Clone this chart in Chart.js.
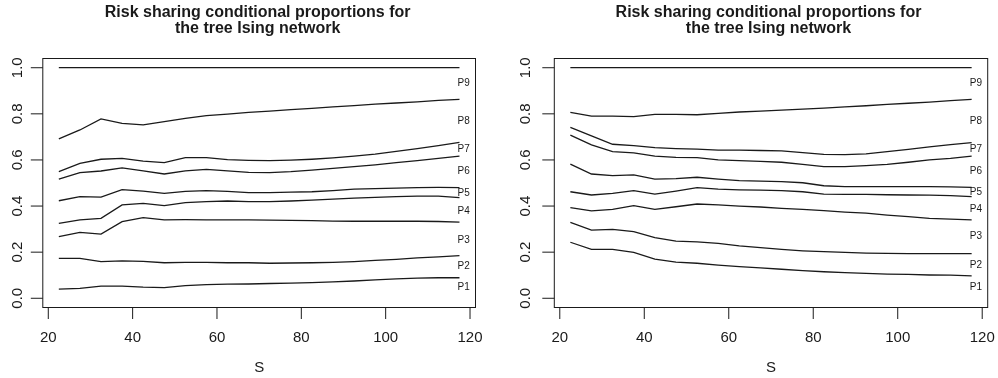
<!DOCTYPE html>
<html>
<head>
<meta charset="utf-8">
<script src="https://cdn.jsdelivr.net/npm/chart.js@4.4.1/dist/chart.umd.min.js"></script>
<style>
  html, body { margin: 0; padding: 0; background: #fff; overflow: hidden; }
  #wrap { position: relative; width: 998px; height: 378px; }
  canvas { position: absolute; top: 0; }
</style>
</head>
<body>
<div id="wrap">
  <canvas id="leftChart" width="499" height="378" style="left:0"></canvas>
  <canvas id="rightChart" width="499" height="378" style="left:499px"></canvas>
</div>
<script>
const S = [22.5, 27.5, 32.5, 37.5, 42.5, 47.5, 52.5, 57.5, 62.5, 67.5,
           72.5, 77.5, 82.5, 87.5, 92.5, 97.5, 102.5, 107.5, 112.5, 117.5];

const seriesNames = ['P1', 'P2', 'P3', 'P4', 'P5', 'P6', 'P7', 'P8', 'P9'];
const xTicks = [20, 40, 60, 80, 100, 120];
const yTicks = [0, 0.2, 0.4, 0.6, 0.8, 1.0];
const titleLines = ['Risk sharing conditional proportions for', 'the tree Ising network'];

// left panel
const leftP1 = [0.040, 0.043, 0.053, 0.053, 0.048, 0.046, 0.055, 0.059, 0.061, 0.062, 0.064, 0.066, 0.068, 0.071, 0.075, 0.080, 0.084, 0.087, 0.089, 0.089];
const leftP2 = [0.173, 0.173, 0.159, 0.162, 0.160, 0.154, 0.156, 0.156, 0.154, 0.154, 0.152, 0.153, 0.154, 0.156, 0.159, 0.164, 0.169, 0.175, 0.180, 0.185];
const leftP3 = [0.267, 0.286, 0.278, 0.332, 0.350, 0.340, 0.341, 0.340, 0.340, 0.340, 0.339, 0.338, 0.337, 0.335, 0.334, 0.334, 0.334, 0.334, 0.333, 0.330];
const leftP4 = [0.325, 0.340, 0.347, 0.405, 0.412, 0.402, 0.415, 0.419, 0.422, 0.419, 0.419, 0.422, 0.426, 0.430, 0.434, 0.438, 0.441, 0.443, 0.443, 0.437];
const leftP5 = [0.423, 0.441, 0.439, 0.471, 0.465, 0.455, 0.464, 0.467, 0.464, 0.458, 0.458, 0.460, 0.462, 0.467, 0.473, 0.476, 0.478, 0.480, 0.481, 0.480];
const leftP6 = [0.517, 0.545, 0.552, 0.566, 0.553, 0.539, 0.553, 0.559, 0.553, 0.546, 0.545, 0.549, 0.556, 0.563, 0.571, 0.579, 0.588, 0.597, 0.607, 0.617];
const leftP7 = [0.549, 0.585, 0.603, 0.607, 0.595, 0.588, 0.610, 0.610, 0.601, 0.598, 0.597, 0.599, 0.603, 0.609, 0.617, 0.625, 0.637, 0.649, 0.662, 0.676];
const leftP8 = [0.691, 0.730, 0.778, 0.759, 0.752, 0.766, 0.780, 0.792, 0.799, 0.806, 0.812, 0.818, 0.824, 0.830, 0.836, 0.842, 0.847, 0.852, 0.858, 0.863];
const leftP9 = [1, 1, 1, 1, 1, 1, 1, 1, 1, 1, 1, 1, 1, 1, 1, 1, 1, 1, 1, 1];
const leftLabelY = [0.048, 0.137, 0.253, 0.379, 0.455, 0.549, 0.646, 0.766, 0.932];

// right panel
const rightP1 = [0.243, 0.212, 0.212, 0.199, 0.170, 0.157, 0.152, 0.144, 0.137, 0.132, 0.126, 0.120, 0.115, 0.111, 0.108, 0.105, 0.104, 0.101, 0.100, 0.097];
const rightP2 = [0.329, 0.296, 0.299, 0.289, 0.263, 0.248, 0.245, 0.238, 0.227, 0.220, 0.212, 0.206, 0.202, 0.199, 0.196, 0.195, 0.194, 0.194, 0.194, 0.194];
const rightP3 = [0.393, 0.379, 0.386, 0.402, 0.386, 0.397, 0.409, 0.405, 0.400, 0.396, 0.390, 0.386, 0.380, 0.374, 0.369, 0.361, 0.354, 0.347, 0.343, 0.340];
const rightP4 = [0.462, 0.448, 0.455, 0.467, 0.452, 0.465, 0.480, 0.473, 0.470, 0.469, 0.467, 0.462, 0.452, 0.451, 0.451, 0.449, 0.448, 0.447, 0.445, 0.441];
const rightP5 = [0.582, 0.539, 0.532, 0.535, 0.517, 0.519, 0.525, 0.517, 0.510, 0.508, 0.506, 0.501, 0.488, 0.484, 0.484, 0.484, 0.484, 0.484, 0.483, 0.481];
const rightP6 = [0.708, 0.665, 0.636, 0.631, 0.617, 0.611, 0.610, 0.600, 0.597, 0.594, 0.590, 0.581, 0.571, 0.571, 0.575, 0.581, 0.590, 0.600, 0.607, 0.617];
const rightP7 = [0.741, 0.704, 0.668, 0.662, 0.653, 0.649, 0.647, 0.643, 0.643, 0.641, 0.639, 0.632, 0.624, 0.623, 0.626, 0.636, 0.646, 0.657, 0.666, 0.675];
const rightP8 = [0.806, 0.790, 0.790, 0.788, 0.798, 0.798, 0.796, 0.802, 0.808, 0.812, 0.816, 0.820, 0.825, 0.830, 0.835, 0.841, 0.846, 0.851, 0.857, 0.863];
const rightP9 = [1, 1, 1, 1, 1, 1, 1, 1, 1, 1, 1, 1, 1, 1, 1, 1, 1, 1, 1, 1];
const rightLabelY = [0.048, 0.144, 0.267, 0.387, 0.462, 0.549, 0.646, 0.766, 0.932];

const labelX = 118.5;
const FONT = '"Liberation Sans", Arial, Helvetica, sans-serif';
const INK = '#1a1a1a';

// draws the R style box, axes, titles and line labels
const rFrame = {
    id: 'rFrame',
    afterDraw(chart, args, opts) {
        const { ctx, chartArea: a } = chart;
        const x = chart.scales.x, y = chart.scales.y;
        const cx = (a.left + a.right) / 2;
        ctx.save();
        ctx.strokeStyle = INK;
        ctx.lineWidth = 1;
        ctx.strokeRect(a.left, a.top, a.right - a.left, a.bottom - a.top);

        ctx.beginPath();
        xTicks.forEach(v => {
            const px = x.getPixelForValue(v);
            ctx.moveTo(px, a.bottom);
            ctx.lineTo(px, a.bottom + 11.5);
        });
        yTicks.forEach(v => {
            const py = y.getPixelForValue(v);
            ctx.moveTo(a.left, py);
            ctx.lineTo(a.left - 12, py);
        });
        ctx.stroke();

        ctx.fillStyle = INK;
        ctx.font = '15px ' + FONT;
        ctx.textAlign = 'center';
        ctx.textBaseline = 'alphabetic';
        xTicks.forEach(v => ctx.fillText(String(v), x.getPixelForValue(v), 341.5));
        yTicks.forEach(v => {
            ctx.save();
            ctx.translate(a.left - opts.yLabelGap, y.getPixelForValue(v));
            ctx.rotate(-Math.PI / 2);
            ctx.fillText(v.toFixed(1), 0, 0);
            ctx.restore();
        });
        ctx.fillText('S', cx, 371.5);

        ctx.font = 'bold 16px ' + FONT;
        titleLines.forEach((t, i) => ctx.fillText(t, cx + opts.titleShift, 16.5 + i * 16.5));

        ctx.font = '10px ' + FONT;
        ctx.textBaseline = 'middle';
        seriesNames.forEach((name, i) => {
            ctx.fillText(name, x.getPixelForValue(labelX), y.getPixelForValue(opts.labelY[i]));
        });
        ctx.restore();
    }
};

function makePanel(id, series, labelY, padLeft, padRight, yLabelGap, titleShift) {
    const datasets = series.map((vals, i) => ({
        label: seriesNames[i],
        data: S.map((s, k) => ({ x: s, y: vals[k] })),
        borderColor: INK,
        borderWidth: 1.3,
        pointRadius: 0,
        fill: false,
        tension: 0
    }));

    return new Chart(document.getElementById(id), {
        type: 'line',
        data: { datasets },
        options: {
            responsive: false,
            animation: false,
            devicePixelRatio: 1,
            layout: { padding: { left: padLeft, right: padRight, top: 58.5, bottom: 70.5 } },
            scales: {
                x: { type: 'linear', display: false, min: 18.7, max: 121.3 },
                y: { type: 'linear', display: false, min: -0.04, max: 1.04 }
            },
            plugins: {
                legend: { display: false },
                tooltip: { enabled: false },
                rFrame: { labelY, yLabelGap, titleShift }
            }
        },
        plugins: [rFrame]
    });
}

makePanel('leftChart',
    [leftP1, leftP2, leftP3, leftP4, leftP5, leftP6, leftP7, leftP8, leftP9],
    leftLabelY, 42.8, 23.5, 21.1, -1.5);
makePanel('rightChart',
    [rightP1, rightP2, rightP3, rightP4, rightP5, rightP6, rightP7, rightP8, rightP9],
    rightLabelY, 55.3, 10.3, 24.3, -2.5);
</script>
</body>
</html>
